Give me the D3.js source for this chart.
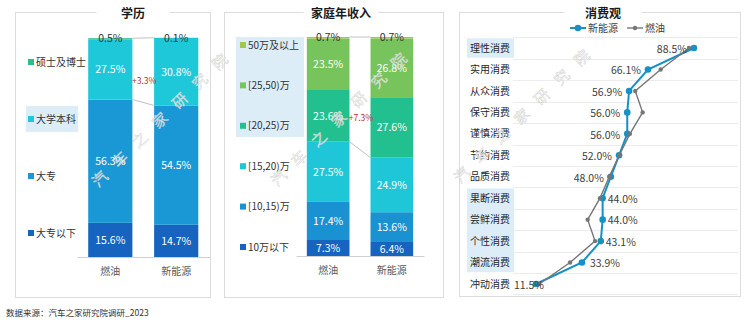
<!DOCTYPE html>
<html><head><meta charset="utf-8">
<script src="https://cdn.jsdelivr.net/npm/d3@7"></script>
<style>
body{margin:0;background:#fff;}
svg{display:block;font-family:"Noto Sans CJK SC","Microsoft YaHei",sans-serif;}
</style></head>
<body><svg id="c" width="744" height="322"></svg>
<script>
// ---------- data ----------
const groups = ['燃油', '新能源'];
const eduSeries = ['大专以下', '大专', '大学本科', '硕士及博士'];
const eduFuel = [15.6, 56.3, 27.5, 0.5];
const eduNEV = [14.7, 54.5, 30.8, 0.1];
const eduDelta = '+3.3%';

const incSeries = ['10万以下', '[10,15)万', '[15,20)万', '[20,25)万', '[25,50)万', '50万及以上'];
const incFuel = [7.3, 17.4, 27.5, 23.6, 23.5, 0.7];
const incNEV = [6.4, 13.6, 24.9, 27.6, 26.8, 0.7];
const incDelta = '+7.3%';

const consCategories = ['理性消费', '实用消费', '从众消费', '保守消费', '谨慎消费', '节约消费', '品质消费', '果断消费', '尝鲜消费', '个性消费', '潮流消费', '冲动消费'];
const consNEV = [88.5, 66.1, 56.9, 56.0, 56.0, 52.0, 48.0, 44.0, 44.0, 43.1, 33.9, 11.5];
const consFuel = [86.1, 72.3, 59.9, 63.5, 57.3, 52.1, 47.2, 42.7, 36.7, 40.3, 28.1, 13.1];
const consSeries = ['新能源', '燃油'];

const titles = ['学历', '家庭年收入', '消费观'];
const sourceText = '数据来源：汽车之家研究院调研_2023';
const watermark = '汽车之家研究院';

// ---------- drawing ----------
const svg = d3.select('#c');
const BORDER = '#dcdcdc';
const HL = '#dcedf8';

function panelBox(x, y, w, h, title, gapW) {
  svg.append('rect').attr('x', x).attr('y', y).attr('width', w).attr('height', h)
    .attr('fill', '#fff').attr('stroke', BORDER).attr('stroke-width', 1);
  const cx = x + w / 2 + (title === '学历' ? 20 : (title === '家庭年收入' ? 7 : 3));
  svg.append('rect').attr('x', cx - gapW / 2).attr('y', y - 2).attr('width', gapW).attr('height', 5).attr('fill', '#fff');
  svg.append('text').attr('x', cx).attr('y', y + 5).attr('text-anchor', 'middle')
    .attr('font-size', 12).attr('font-weight', 'bold').attr('fill', '#1a1a1a').text(title);
}

panelBox(15.5, 12.5, 195, 285, titles[0], 73);
panelBox(224.5, 12.5, 219, 285, titles[1], 75);
panelBox(459.5, 12.5, 281, 284, titles[2], 77);

function stackedPanel(cfg) {
  const g = svg.append('g');
  const x = d3.scaleBand().domain(groups).range(cfg.xr).paddingInner(0.33).paddingOuter(0.17);
  const y = d3.scaleLinear().domain([0, 100]).range(cfg.yr);
  const table = groups.map((gn, gi) => {
    const o = { group: gn };
    cfg.series.forEach((s, si) => { o[s] = cfg.values[gi][si]; });
    return o;
  });
  const stacked = d3.stack().keys(cfg.series)(table);

  // highlight box behind legend
  g.append('rect').attr('x', cfg.hl[0]).attr('y', cfg.hl[1]).attr('width', cfg.hl[2]).attr('height', cfg.hl[3]).attr('fill', HL);

  // legend
  const ly = d3.scalePoint().domain(cfg.series).range(cfg.legendY);
  cfg.series.forEach((s, i) => {
    g.append('rect').attr('x', cfg.legendX).attr('y', ly(s) - 3).attr('width', 6).attr('height', 6).attr('fill', cfg.colors[i]);
    g.append('text').attr('x', cfg.legendX + 8).attr('y', ly(s)).attr('dy', '0.36em')
      .attr('font-size', 10).attr('fill', '#333').text(s);
  });

  // bars
  stacked.forEach((layer, li) => {
    g.selectAll(null).data(layer).enter().append('rect')
      .attr('x', d => x(d.data.group)).attr('width', x.bandwidth())
      .attr('y', d => y(d[1])).attr('height', d => Math.max(0, y(d[0]) - y(d[1])))
      .attr('fill', cfg.colors[li]);
  });

  // connectors
  const bw = x.bandwidth();
  const last = stacked[stacked.length - 1];
  const link = stacked[cfg.linkIndex];
  [last, link].forEach(layer => {
    g.append('line')
      .attr('x1', x(groups[0]) + bw).attr('y1', y(layer[0][1]))
      .attr('x2', x(groups[1])).attr('y2', y(layer[1][1]))
      .attr('stroke', '#b0b0b0').attr('stroke-width', 0.8);
  });
  g.append('text').attr('x', (x(groups[0]) + bw + x(groups[1])) / 2 + 1).attr('y', cfg.deltaY)
    .attr('dy', '0.35em').attr('text-anchor', 'middle').attr('font-size', 8.5).attr('fill', '#b03030').text(cfg.delta);

  // labels
  stacked.forEach((layer, li) => {
    const isTop = li === stacked.length - 1;
    g.selectAll(null).data(layer).enter().append('text')
      .attr('x', d => x(d.data.group) + bw / 2)
      .attr('y', d => isTop ? y(100) : (y(d[0]) + y(d[1])) / 2)
      .attr('dy', '0.36em').attr('text-anchor', 'middle').attr('font-size', 10.5)
      .attr('fill', isTop ? '#333' : '#fff')
      .text(d => (d[1] - d[0]).toFixed(1) + '%');
  });

  // axis
  const ax = g.append('g').attr('transform', `translate(0,${cfg.yr[0]})`)
    .call(d3.axisBottom(x).tickSize(0).tickPadding(11));
  ax.select('.domain').attr('stroke', '#d0d0d0');
  ax.selectAll('text').attr('font-size', 10).attr('fill', '#595959').attr('font-family', '"Noto Sans CJK SC",sans-serif');
}

stackedPanel({
  series: eduSeries, values: [eduFuel, eduNEV],
  colors: ['#1664bf', '#1a98d5', '#1fc8d8', '#2bbd8e'],
  xr: [77, 209.5], yr: [257, 38],
  legendX: 28, legendY: [233, 62], hl: [26, 106, 52, 26],
  linkIndex: 1, delta: eduDelta, deltaY: 81
});
stackedPanel({
  series: incSeries, values: [incFuel, incNEV],
  colors: ['#1664bf', '#1a92d2', '#1fc6d8', '#22c08f', '#77c35c', '#a2c84a'],
  xr: [296, 424], yr: [256, 37],
  legendX: 240, legendY: [247, 45], hl: [236, 37, 68, 100],
  linkIndex: 2, delta: incDelta, deltaY: 118
});

// ---------- line panel ----------
(function () {
  const g = svg.append('g');
  const y = d3.scaleBand().domain(consCategories).range([37.3, 294.7]);
  const x = d3.scaleLinear().domain([0, 110]).range([512.4, 738]);
  const hlRows = [[0, 0], [7, 10]];
  hlRows.forEach(([a, b]) => {
    g.append('rect').attr('x', 467).attr('y', y(consCategories[a]) + 1)
      .attr('width', 47).attr('height', y(consCategories[b]) + y.bandwidth() - y(consCategories[a]) - 2).attr('fill', HL);
  });
  // grid lines
  g.selectAll(null).data(consCategories.slice(1)).enter().append('line')
    .attr('x1', 513).attr('x2', 738).attr('y1', d => Math.round(y(d)) + 0.5).attr('y2', d => Math.round(y(d)) + 0.5)
    .attr('stroke', '#ececec');
  g.append('line').attr('x1', 513).attr('x2', 738).attr('y1', 294.5).attr('y2', 294.5).attr('stroke', '#ececec');
  g.append('line').attr('x1', 513).attr('x2', 738).attr('y1', 37.5).attr('y2', 37.5).attr('stroke', '#ececec');
  // category labels
  g.selectAll(null).data(consCategories).enter().append('text')
    .attr('x', 470).attr('y', d => y(d) + y.bandwidth() / 2).attr('dy', '0.36em')
    .attr('font-size', 10).attr('fill', '#262626').text(d => d);

  const cy = d => y(d) + y.bandwidth() / 2;
  const line = d3.line().x(d => x(d.v)).y(d => cy(d.c));
  const fuel = consCategories.map((c, i) => ({ c, v: consFuel[i] }));
  const nev = consCategories.map((c, i) => ({ c, v: consNEV[i] }));
  const BLUE = '#1790c6', GRAY = '#767676';

  g.append('path').datum(nev).attr('d', line).attr('fill', 'none').attr('stroke', BLUE).attr('stroke-width', 2);
  g.selectAll(null).data(nev).enter().append('circle').attr('cx', d => x(d.v)).attr('cy', d => cy(d.c)).attr('r', 3.3).attr('fill', BLUE);
  g.append('path').datum(fuel).attr('d', line).attr('fill', 'none').attr('stroke', GRAY).attr('stroke-width', 1.4);
  g.selectAll(null).data(fuel).enter().append('circle').attr('cx', d => x(d.v)).attr('cy', d => cy(d.c)).attr('r', 2.2).attr('fill', GRAY);

  // value labels (新能源)
  g.selectAll(null).data(nev).enter().append('text')
    .attr('x', (d, i) => i >= 7 && i <= 10 ? x(d.v) + (i === 10 ? 8 : 5) : x(d.v) + (i === 11 ? 8 : -7))
    .attr('y', d => cy(d.c) + 1).attr('dy', '0.36em')
    .attr('text-anchor', (d, i) => i >= 7 && i <= 10 ? 'start' : 'end')
    .attr('font-size', 10.5).attr('fill', '#404040').text(d => d.v.toFixed(1) + '%');

  // legend
  const legend = [{ s: consSeries[0], c: BLUE, x: 570, w: 2, r: 3.3 }, { s: consSeries[1], c: GRAY, x: 627, w: 1.4, r: 2.2 }];
  legend.forEach(l => {
    g.append('line').attr('x1', l.x).attr('x2', l.x + 16).attr('y1', 28).attr('y2', 28).attr('stroke', l.c).attr('stroke-width', l.w);
    g.append('circle').attr('cx', l.x + 8).attr('cy', 28).attr('r', l.r).attr('fill', l.c);
    g.append('text').attr('x', l.x + 18).attr('y', 28).attr('dy', '0.36em').attr('font-size', 10).attr('fill', '#404040').text(l.s);
  });
})();

// ---------- watermarks ----------
const wmStarts = [[100, 179], [279, 178], [462, 175]];
wmStarts.forEach(([sx, sy]) => {
  Array.from(watermark).forEach((ch, i) => {
    const px = sx + i * 20, py = sy - i * 19.5;
    svg.append('text').attr('x', px).attr('y', py).attr('dy', '0.35em').attr('text-anchor', 'middle')
      .attr('transform', `rotate(-44,${px},${py})`)
      .attr('font-size', 15).attr('fill', '#fff').attr('fill-opacity', 0.75)
      .attr('stroke', '#c8c8c8').attr('stroke-width', 0.5).attr('stroke-opacity', 0.8)
      .text(ch);
  });
});

// ---------- source ----------
svg.append('text').attr('x', 6).attr('y', 313).attr('dy', '0.35em').attr('font-size', 8.5).attr('fill', '#333').text(sourceText);
</script></body></html>
